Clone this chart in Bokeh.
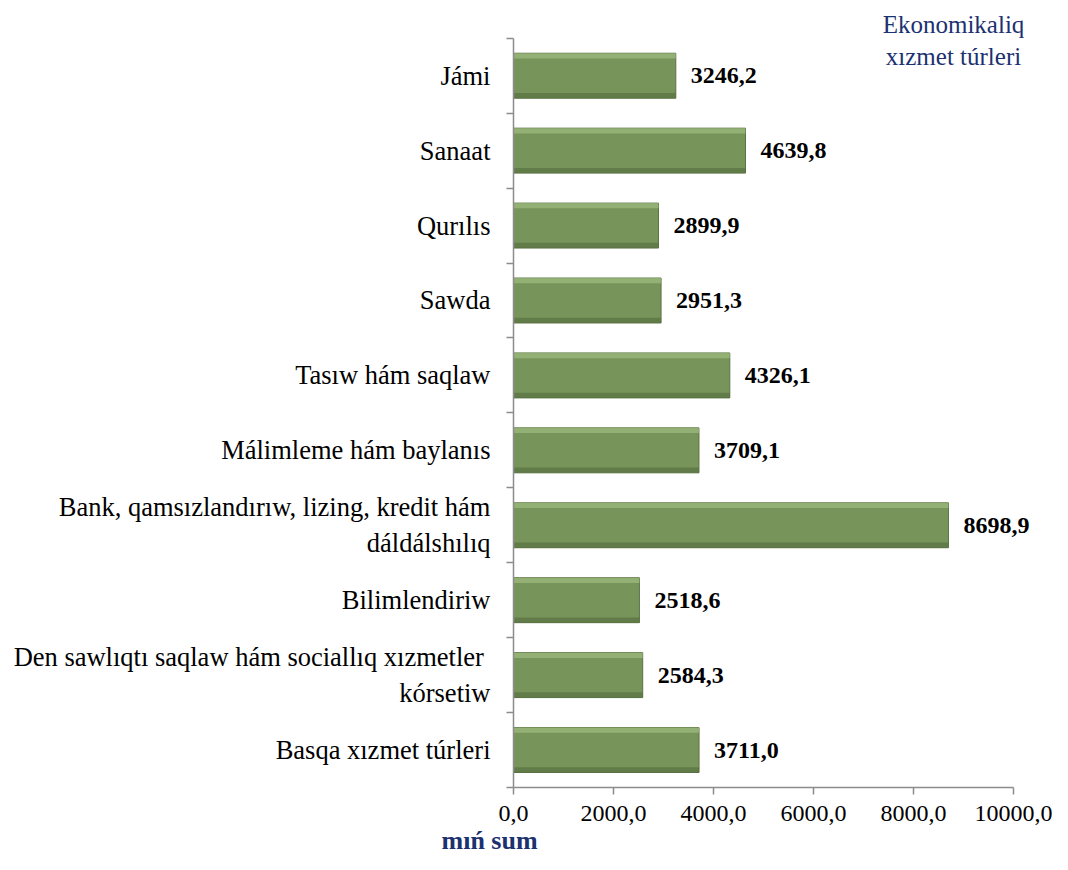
from bokeh.plotting import figure
from bokeh.models import FixedTicker, Label, LabelSet, ColumnDataSource, Range1d, Title
from bokeh.embed import file_html
from bokeh.resources import INLINE

categories = [
    "Jámi",
    "Sanaat",
    "Qurılıs",
    "Sawda",
    "Tasıw hám saqlaw",
    "Málimleme hám baylanıs",
    "Bank, qamsızlandırıw, lizing, kredit hám\ndáldálshılıq",
    "Bilimlendiriw",
    "Den sawlıqtı saqlaw  hám sociallıq xızmetler\nkórsetiw",
    "Basqa xızmet túrleri",
]
values = [3246.2, 4639.8, 2899.9, 2951.3, 4326.1, 3709.1, 8698.9, 2518.6, 2584.3, 3711.0]
x_ticks = [0, 2000, 4000, 6000, 8000, 10000]
x_tick_labels = ["0,0", "2000,0", "4000,0", "6000,0", "8000,0", "10000,0"]
title_text = "Ekonomikaliq\nxızmet túrleri"
unit_text = "mıń sum"

n = len(categories)
pos = [n - i - 0.5 for i in range(n)]
value_labels = [f"{v:.1f}".replace(".", ",") for v in values]

src = ColumnDataSource(dict(y=pos, v=values, lab=value_labels,
                            ytop=[p_ + 0.265 for p_ in pos],
                            ybot=[p_ - 0.265 for p_ in pos]))

SERIF = "Liberation Serif"
NAVY = "#1B3170"
GRAY = "#8C8C8C"

p = figure(width=1052, height=854, output_backend="svg", toolbar_location=None,
           x_range=Range1d(0, 10700), y_range=Range1d(0, n + 0.504),
           min_border_left=513, min_border_right=4, min_border_top=0, min_border_bottom=0,
           background_fill_color="white", border_fill_color="white")
p.outline_line_color = None
p.xgrid.visible = False
p.ygrid.visible = False

# bars with a bevel look
p.hbar(y="y", right="v", left=0, height=0.6, source=src,
       fill_color="#77945A", line_color="#5B7443", line_width=1)
p.hbar(y="ytop", right="v", left=0, height=0.07, source=src,
       fill_color="#A9C487", fill_alpha=0.6, line_color=None)
p.hbar(y="ybot", right="v", left=0, height=0.07, source=src,
       fill_color="#556C3D", fill_alpha=0.6, line_color=None)

labels = LabelSet(x="v", y="y", text="lab", source=src, x_offset=15,
                  text_baseline="middle", text_align="left",
                  text_font=SERIF, text_font_style="bold", text_font_size="24px",
                  text_color="black")
p.add_layout(labels)

# x axis
xa = p.xaxis[0]
xa.ticker = FixedTicker(ticks=x_ticks)
xa.bounds = (0, 10000)
xa.major_label_overrides = {t: l for t, l in zip(x_ticks, x_tick_labels)}
xa.major_label_text_font = SERIF
xa.major_label_text_font_size = "24px"
xa.major_label_text_color = "black"
xa.axis_line_color = GRAY
xa.axis_line_width = 1.5
xa.major_tick_line_color = GRAY
xa.major_tick_line_width = 1.5
xa.major_tick_in = 0
xa.major_tick_out = 7
xa.minor_tick_line_color = None
xa.major_label_standoff = 11

# y axis: labels at category centres, tick marks between categories
ya = p.yaxis[0]
ya.ticker = FixedTicker(ticks=pos, minor_ticks=list(range(n + 1)))
ya.bounds = (0, n)
ya.major_label_overrides = {pp: c for pp, c in zip(pos, categories)}
ya.major_label_text_font = SERIF
ya.major_label_text_font_size = "26.5px"
ya.major_label_text_color = "black"
ya.major_tick_line_color = None
ya.major_tick_in = 0
ya.major_tick_out = 0
ya.minor_tick_line_color = GRAY
ya.minor_tick_line_width = 1.5
ya.minor_tick_in = 0
ya.minor_tick_out = 7
ya.axis_line_color = GRAY
ya.axis_line_width = 1.5
ya.major_label_standoff = 16

title = Label(x=10000, y=n + 0.37, x_offset=-60, text=title_text,
              text_align="center", text_baseline="top",
              text_font=SERIF, text_font_size="25px", text_color=NAVY)
p.add_layout(title)

unit = Title(text=unit_text, align="left", offset=-72, standoff=0,
             text_font=SERIF, text_font_style="bold", text_font_size="26px",
             text_color=NAVY)
p.add_layout(unit, "below")

open("out.html", "w").write(file_html(p, INLINE))
